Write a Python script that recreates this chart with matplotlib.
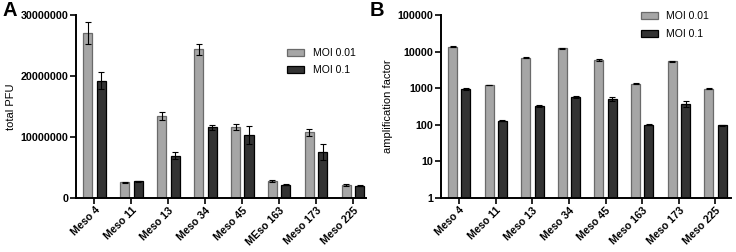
import numpy as np
import matplotlib.pyplot as plt
from matplotlib.ticker import FixedLocator, NullLocator

plt.rcParams['font.family'] = ['Liberation Sans', 'DejaVu Sans']

samples_a = ['Meso 4', 'Meso 11', 'Meso 13', 'Meso 34', 'Meso 45', 'MEso 163', 'Meso 173', 'Meso 225']
samples_b = ['Meso 4', 'Meso 11', 'Meso 13', 'Meso 34', 'Meso 45', 'Meso 163', 'Meso 173', 'Meso 225']

# panel A: total PFU
pfu_low = [27.05e6, 2.5e6, 13.4e6, 24.4e6, 11.65e6, 2.72e6, 10.7e6, 2.05e6]
pfu_low_err = [1.75e6, 0.05e6, 0.6e6, 0.9e6, 0.5e6, 0.1e6, 0.65e6, 0.1e6]
pfu_high = [19.2e6, 2.65e6, 6.9e6, 11.55e6, 10.25e6, 2.08e6, 7.45e6, 1.95e6]
pfu_high_err = [1.4e6, 0.1e6, 0.55e6, 0.4e6, 1.5e6, 0.08e6, 1.3e6, 0.06e6]

# panel B: amplification factor
amp_low = [13700, 1210, 6800, 12500, 5900, 1300, 5400, 950]
amp_low_err = [600, 30, 300, 400, 250, 40, 250, 30]
amp_high = [940, 127, 330, 570, 510, 100, 370, 96]
amp_high_err = [50, 5, 25, 20, 70, 3, 60, 3]

LIGHT = '#a6a6a6'
DARK = '#333333'
W = 0.245
OFF = 0.182


def style_axis(ax):
    for side in ['top', 'right']:
        ax.spines[side].set_visible(False)
    for side in ['left', 'bottom']:
        ax.spines[side].set_linewidth(1.4)
    ax.tick_params(axis='both', width=1.2, length=4, labelsize=7.7, pad=1.5)
    for lab in ax.get_xticklabels() + ax.get_yticklabels():
        lab.set_fontweight('bold')


def draw_bars(ax, names, low, low_err, high, high_err):
    x = np.arange(len(names))
    ekw = dict(elinewidth=0.8, capthick=0.8, ecolor='black')
    ax.bar(x - OFF, low, W, color=LIGHT, edgecolor='#6a6a6a', linewidth=0.9,
           yerr=low_err, capsize=2.5, error_kw=ekw, label='MOI 0.01')
    ax.bar(x + OFF, high, W, color=DARK, edgecolor='black', linewidth=0.9,
           yerr=high_err, capsize=2.5, error_kw=ekw, label='MOI 0.1')
    ax.set_xticks(x)
    ax.set_xticklabels(names, rotation=45, ha='right', rotation_mode='anchor')


def add_legend(ax, anchor):
    ax.legend(loc='upper left', bbox_to_anchor=anchor, frameon=False, fontsize=7.5,
              handlelength=1.6, handleheight=0.65, handletextpad=0.85, labelspacing=0.7,
              borderaxespad=0, borderpad=0)


fig = plt.figure(figsize=(7.36, 2.52), dpi=100)
ax1 = fig.add_axes([0.1033, 0.216, 0.394, 0.724])
ax2 = fig.add_axes([0.599, 0.216, 0.394, 0.724])

draw_bars(ax1, samples_a, pfu_low, pfu_low_err, pfu_high, pfu_high_err)
ax1.set_xlim(-0.5, 7.35)
ax1.set_ylim(0, 30e6)
ax1.set_yticks([0, 10e6, 20e6, 30e6])
ax1.set_yticklabels(['0', '10000000', '20000000', '30000000'])
ax1.set_ylabel('total PFU', fontsize=8, labelpad=3)
style_axis(ax1)
add_legend(ax1, (0.728, 0.82))

draw_bars(ax2, samples_b, amp_low, amp_low_err, amp_high, amp_high_err)
ax2.set_yscale('log')
ax2.set_xlim(-0.5, 7.42)
ax2.set_ylim(1, 100000)
ax2.yaxis.set_major_locator(FixedLocator([1, 10, 100, 1000, 10000, 100000]))
ax2.yaxis.set_minor_locator(NullLocator())
ax2.set_yticklabels(['1', '10', '100', '1000', '10000', '100000'])
ax2.set_ylabel('amplification factor', fontsize=8, labelpad=3)
style_axis(ax2)
add_legend(ax2, (0.69, 1.02))

fig.text(0.003, 0.995, 'A', fontsize=14.5, fontweight='bold', va='top')
fig.text(0.502, 0.995, 'B', fontsize=14.5, fontweight='bold', va='top')

fig.savefig('out.png', dpi=100)
